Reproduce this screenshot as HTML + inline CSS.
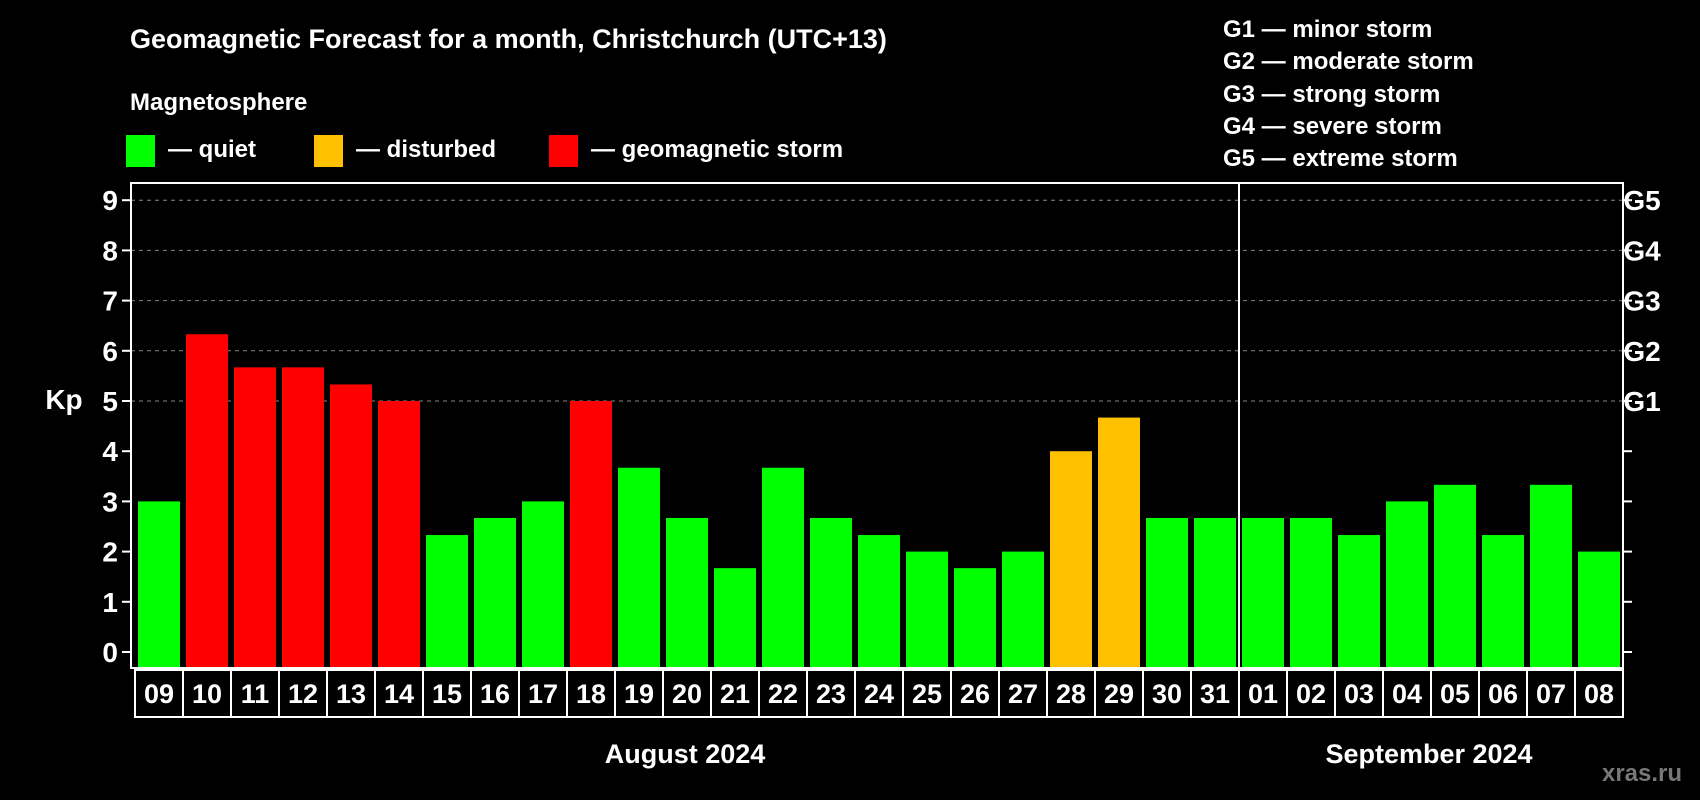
<!DOCTYPE html>
<html><head><meta charset="utf-8"><style>
html,body{margin:0;padding:0;background:#000;}
svg{display:block;font-family:"Liberation Sans",Arial,sans-serif;font-weight:bold;}
</style></head><body>
<svg id="chart" width="1700" height="800" viewBox="0 0 1700 800">
<rect x="0" y="0" width="1700" height="800" fill="#000"/>
<text x="130" y="48" font-size="27" fill="#fff">Geomagnetic Forecast for a month, Christchurch (UTC+13)</text>
<text x="130" y="110" font-size="24" fill="#fff">Magnetosphere</text>
<g><rect x="126" y="135" width="29" height="32" fill="#00ff00"/><text x="168" y="157" font-size="24" fill="#fff">— quiet</text></g>
<g><rect x="314" y="135" width="29" height="32" fill="#ffc000"/><text x="356" y="157" font-size="24" fill="#fff">— disturbed</text></g>
<g><rect x="549" y="135" width="29" height="32" fill="#ff0000"/><text x="591" y="157" font-size="24" fill="#fff">— geomagnetic storm</text></g>
<g font-size="24" fill="#fff">
<text x="1223" y="37">G1 — minor storm</text>
<text x="1223" y="69">G2 — moderate storm</text>
<text x="1223" y="102">G3 — strong storm</text>
<text x="1223" y="134">G4 — severe storm</text>
<text x="1223" y="166">G5 — extreme storm</text>
</g>
<text x="64" y="409" font-size="28" fill="#fff" text-anchor="middle">Kp</text>
<text x="685" y="763" font-size="27" fill="#fff" text-anchor="middle">August 2024</text>
<text x="1429" y="763" font-size="27" fill="#fff" text-anchor="middle">September 2024</text>
<text x="1642" y="781" font-size="24" fill="#777" text-anchor="middle">xras.ru</text>
<g id="grid"></g><g id="bars"></g><g id="axes"></g>
</svg>
<script>
const days = ["09","10","11","12","13","14","15","16","17","18","19","20","21","22","23","24","25","26","27","28","29","30","31","01","02","03","04","05","06","07","08"];
const kpValues = [3,6.33,5.67,5.67,5.33,5,2.33,2.67,3,5,3.67,2.67,1.67,3.67,2.67,2.33,2,1.67,2,4,4.67,2.67,2.67,2.67,2.67,2.33,3,3.33,2.33,3.33,2];
const yTicks = [0,1,2,3,4,5,6,7,8,9];
const gLabels = ["","","","","","G1","G2","G3","G4","G5"];
const NS="http://www.w3.org/2000/svg";
const plotL=131, plotR=1623, plotT=183, plotB=668, x0=138, pitch=48, bw=42;
function y(v){return 652 - v*50.2;}
function x(i){return x0 + i*pitch;}
function mk(tag, attrs, parent){const e=document.createElementNS(NS,tag);for(const k in attrs)e.setAttribute(k,attrs[k]);parent.appendChild(e);return e;}
const grid=document.getElementById('grid'), bars=document.getElementById('bars'), axes=document.getElementById('axes');
yTicks.forEach(t=>{
  if(t>=5){const l=mk('line',{x1:plotL,x2:plotR,y1:y(t),y2:y(t),stroke:'#888','stroke-width':1,'stroke-dasharray':'4,4'},grid);
    
    }
  const tl=mk('line',{x1:plotL-9,x2:plotL,y1:y(t),y2:y(t),stroke:'#fff','stroke-width':2},axes);
  
  
  const tr=mk('line',{x1:plotR,x2:plotR+9,y1:y(t),y2:y(t),stroke:'#fff','stroke-width':2},axes);
  
  
  const lb=mk('text',{x:118,y:y(t)+10,'font-size':28,fill:'#fff','text-anchor':'end'},axes);
  lb.textContent=t;
  
  
  if(gLabels[t]){const g=mk('text',{x:1642,y:y(t)+10,'font-size':28,fill:'#fff','text-anchor':'middle'},axes);
    g.textContent=gLabels[t];
    
    }
});
kpValues.forEach((v,i)=>{
  const col = v>=5 ? '#ff0000' : (v>=4 ? '#ffc000' : '#00ff00');
  const r=mk('rect',{x:x(i),y:y(v),width:bw,height:plotB-y(v),fill:col},bars);
  
  
  const b=mk('rect',{x:x(i)-3,y:670,width:48,height:47,fill:'none',stroke:'#fff','stroke-width':2},axes);
  
  
  const t=mk('text',{x:x(i)+bw/2,y:703,'font-size':27,fill:'#fff','text-anchor':'middle'},axes);
  t.textContent=days[i];
  
  
});
const frame=mk('rect',{x:plotL,y:plotT,width:plotR-plotL,height:plotB-plotT,fill:'none',stroke:'#fff','stroke-width':2},axes);


const divX = x(23)-3;
const div=mk('line',{x1:divX,x2:divX,y1:plotT,y2:plotB,stroke:'#fff','stroke-width':2},axes);


</script>
</body></html>
